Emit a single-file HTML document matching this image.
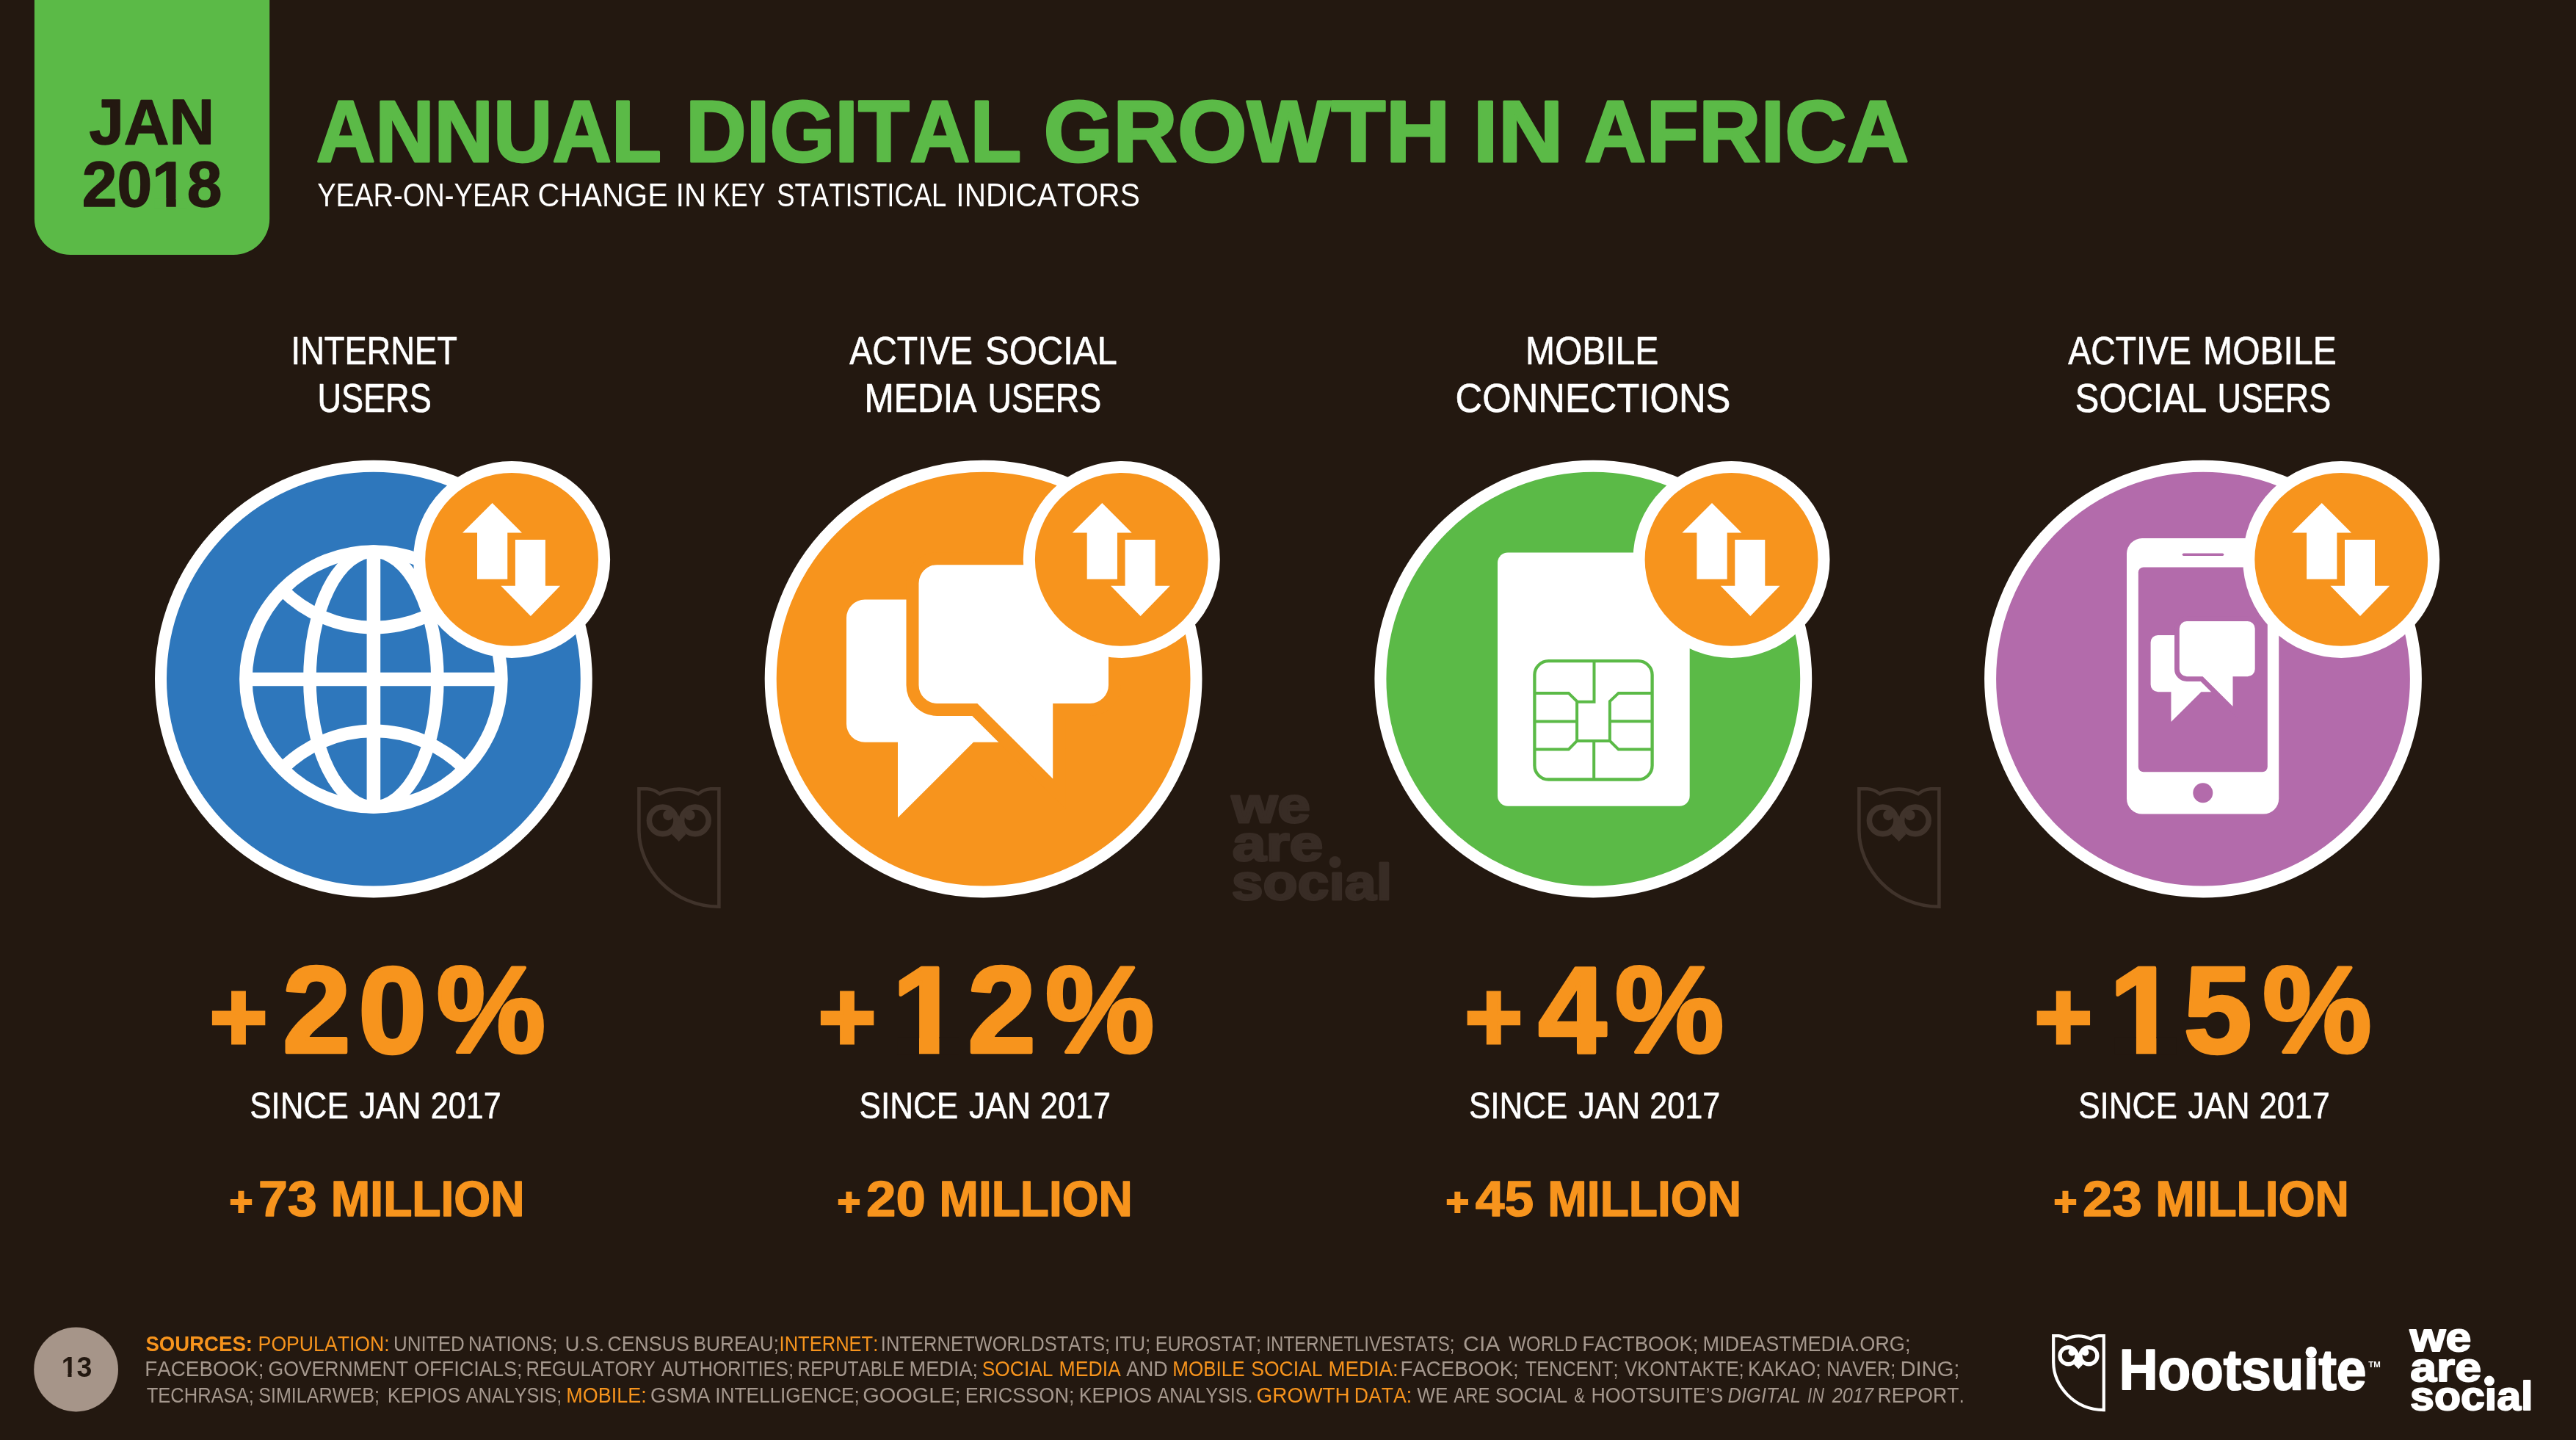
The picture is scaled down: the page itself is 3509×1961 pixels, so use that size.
<!DOCTYPE html>
<html lang="en"><head><meta charset="utf-8"><title>Annual Digital Growth in Africa</title>
<style>html,body{margin:0;padding:0;background:#231810;}body{width:3509px;height:1961px}svg{display:block}text{font-family:"Liberation Sans",sans-serif;white-space:pre;font-kerning:none}</style></head>
<body><svg style="will-change:transform" width="3509" height="1961" viewBox="0 0 3509 1961">
<rect width="3509" height="1961" fill="#231810"/>
<path d="M46.9,0 H367.2 V298 A49,49 0 0 1 318.2,347 H95.9 A49,49 0 0 1 46.9,298 Z" fill="#5bba47"/>
<text fill="#231810" font-weight="700" stroke="#231810"><tspan x="121.46" y="196.25" font-size="87.94" textLength="170.53" lengthAdjust="spacingAndGlyphs" stroke-width="1.5" stroke-linejoin="round">JAN</tspan> <tspan x="111.78" y="281.25" font-size="87.94" textLength="190.71" lengthAdjust="spacingAndGlyphs" stroke-width="1.5" stroke-linejoin="round">2018</tspan></text>
<rect x="210.58" y="270.33" width="15.77" height="12.87" fill="#5bba47"/><rect x="239.69" y="270.33" width="14.66" height="12.87" fill="#5bba47"/>
<text y="219.9" font-size="119.48" fill="#5bba47" stroke="#5bba47" stroke-width="3" stroke-linejoin="round"><tspan x="430.73" textLength="470.2" lengthAdjust="spacingAndGlyphs" font-weight="700">ANNUAL</tspan> <tspan x="934.05" textLength="457.37" lengthAdjust="spacingAndGlyphs" font-weight="700">DIGITAL</tspan> <tspan x="1421.51" textLength="553.98" lengthAdjust="spacingAndGlyphs" font-weight="700">GROWTH</tspan> <tspan x="2006.47" textLength="123.02" lengthAdjust="spacingAndGlyphs" font-weight="700">IN</tspan> <tspan x="2158.09" textLength="442.1" lengthAdjust="spacingAndGlyphs" font-weight="700">AFRICA</tspan></text>
<text y="280.7" font-size="43.46" fill="#fff"><tspan x="432.16" textLength="290.11" lengthAdjust="spacingAndGlyphs">YEAR-ON-YEAR</tspan> <tspan x="732.5" textLength="177.28" lengthAdjust="spacingAndGlyphs">CHANGE</tspan> <tspan x="920.58" textLength="41.4" lengthAdjust="spacingAndGlyphs">IN</tspan> <tspan x="971.38" textLength="71.2" lengthAdjust="spacingAndGlyphs">KEY</tspan> <tspan x="1058.14" textLength="231.27" lengthAdjust="spacingAndGlyphs">STATISTICAL</tspan> <tspan x="1302.35" textLength="250.41" lengthAdjust="spacingAndGlyphs">INDICATORS</tspan></text>
<text y="495.65" font-size="54.51" fill="#fff" stroke="#fff" stroke-width="0.7" stroke-linejoin="round"><tspan x="396.57" textLength="226.21" lengthAdjust="spacingAndGlyphs">INTERNET</tspan></text>
<text y="561.05" font-size="54.94" fill="#fff" stroke="#fff" stroke-width="0.7" stroke-linejoin="round"><tspan x="432.47" textLength="155.24" lengthAdjust="spacingAndGlyphs">USERS</tspan></text>
<text y="495.65" font-size="54.51" fill="#fff" stroke="#fff" stroke-width="0.7" stroke-linejoin="round"><tspan x="1157.36" textLength="167.48" lengthAdjust="spacingAndGlyphs">ACTIVE</tspan> <tspan x="1342.02" textLength="179.75" lengthAdjust="spacingAndGlyphs">SOCIAL</tspan></text>
<text y="561.05" font-size="54.94" fill="#fff" stroke="#fff" stroke-width="0.7" stroke-linejoin="round"><tspan x="1177.49" textLength="152.96" lengthAdjust="spacingAndGlyphs">MEDIA</tspan> <tspan x="1345.39" textLength="154.73" lengthAdjust="spacingAndGlyphs">USERS</tspan></text>
<text y="495.65" font-size="54.51" fill="#fff" stroke="#fff" stroke-width="0.7" stroke-linejoin="round"><tspan x="2077.91" textLength="181.4" lengthAdjust="spacingAndGlyphs">MOBILE</tspan></text>
<text y="561.05" font-size="54.94" fill="#fff" stroke="#fff" stroke-width="0.7" stroke-linejoin="round"><tspan x="1982.57" textLength="374.8" lengthAdjust="spacingAndGlyphs">CONNECTIONS</tspan></text>
<text y="495.65" font-size="54.51" fill="#fff" stroke="#fff" stroke-width="0.7" stroke-linejoin="round"><tspan x="2817.36" textLength="167.48" lengthAdjust="spacingAndGlyphs">ACTIVE</tspan> <tspan x="3001.11" textLength="181.61" lengthAdjust="spacingAndGlyphs">MOBILE</tspan></text>
<text y="561.05" font-size="54.94" fill="#fff" stroke="#fff" stroke-width="0.7" stroke-linejoin="round"><tspan x="2826.83" textLength="179.14" lengthAdjust="spacingAndGlyphs">SOCIAL</tspan> <tspan x="3020.49" textLength="154.73" lengthAdjust="spacingAndGlyphs">USERS</tspan></text>
<g transform="translate(868.1,1071.8) scale(1)" fill="none" stroke="#40332b" stroke-width="4.6"><path d="M2.3,60 V2.4 H13.8 Q23,3 30.5,9.3 Q56.8,-3.7 83,9.3 Q90.5,3 99.8,2.4 H111.3 V162.9 C45.9,162.6 2.8,109.7 2.3,60 Z" stroke-linejoin="miter"/><circle cx="34.6" cy="45.5" r="18.3" stroke-width="7.6"/><circle cx="78.8" cy="45.5" r="18.3" stroke-width="7.6"/><g fill="#40332b" stroke="none"><circle cx="42.2" cy="38.2" r="7.2"/><circle cx="71.4" cy="38.2" r="7.2"/><path d="M56.6,38 L47,64.5 L56.6,74.2 L66,64.5 Z"/></g></g>
<g transform="translate(2530.1,1071.8) scale(1)" fill="none" stroke="#40332b" stroke-width="4.6"><path d="M2.3,60 V2.4 H13.8 Q23,3 30.5,9.3 Q56.8,-3.7 83,9.3 Q90.5,3 99.8,2.4 H111.3 V162.9 C45.9,162.6 2.8,109.7 2.3,60 Z" stroke-linejoin="miter"/><circle cx="34.6" cy="45.5" r="18.3" stroke-width="7.6"/><circle cx="78.8" cy="45.5" r="18.3" stroke-width="7.6"/><g fill="#40332b" stroke="none"><circle cx="42.2" cy="38.2" r="7.2"/><circle cx="71.4" cy="38.2" r="7.2"/><path d="M56.6,38 L47,64.5 L56.6,74.2 L66,64.5 Z"/></g></g>
<text fill="#382c25" font-weight="700" stroke="#382c25"><tspan x="1677.84" y="1120" font-size="69.17" textLength="107.21" lengthAdjust="spacingAndGlyphs" stroke-width="3" stroke-linejoin="round">we</tspan> <tspan x="1678.69" y="1172.1" font-size="69.17" textLength="123.73" lengthAdjust="spacingAndGlyphs" stroke-width="3" stroke-linejoin="round">are</tspan> <tspan x="1677.69" y="1224.9" font-size="69.17" textLength="218.36" lengthAdjust="spacingAndGlyphs" stroke-width="3" stroke-linejoin="round">social</tspan></text>
<rect x="1813.29" y="1172.28" width="15.57" height="11.99" fill="#231810"/><circle cx="1818.6" cy="1174" r="8" fill="#382c25"/>
<circle cx="508.9" cy="924.6" r="289.9" fill="#2e77bc" stroke="#fff" stroke-width="16"/>
<circle cx="1339.6" cy="924.6" r="289.9" fill="#f7941d" stroke="#fff" stroke-width="16"/>
<circle cx="2170.3" cy="924.6" r="289.9" fill="#5bba47" stroke="#fff" stroke-width="16"/>
<circle cx="3001" cy="924.6" r="289.9" fill="#b36bab" stroke="#fff" stroke-width="16"/>
<g transform="translate(508.9,925)" fill="none" stroke="#fff" stroke-width="17.6"><circle r="174"/><ellipse rx="87" ry="174"/><path d="M0,-174 V174 M-174,0 H174" stroke-width="18.6"/><path d="M-124.3,-121.8 A176,176 0 0 0 124.3,-121.8 M-124.3,121.8 A176,176 0 0 1 124.3,121.8"/></g>
<g transform="translate(0,0)"><path d="M1178,816.6 H1386.7 A25,25 0 0 1 1411.7,841.6 V985.7 A25,25 0 0 1 1386.7,1010.7 H1326 L1223,1113.6 V1010.7 H1178 A25,25 0 0 1 1153,985.7 V841.6 A25,25 0 0 1 1178,816.6 Z" fill="#fff"/><path d="M1276.5,769.2 H1485 A25,25 0 0 1 1510,794.2 V932.9 A25,25 0 0 1 1485,957.9 H1434.2 V1060.4 L1331.3,957.9 H1276.5 A25,25 0 0 1 1251.5,932.9 V794.2 A25,25 0 0 1 1276.5,769.2 Z" fill="#fff" stroke="#f7941d" stroke-width="34" paint-order="stroke"/></g>
<rect x="2040" y="752.5" width="261.7" height="345.3" rx="14" fill="#fff"/>
<g fill="none" stroke="#5bba47" stroke-width="4"><rect stroke-width="4.3" x="2090.4" y="900.1" width="160.2" height="161.4" rx="19"/><path d="M2171.5,900 V955.7 H2148.1 M2090.4,943.9 H2136.7 L2148.1,955 V1008.9 L2136.7,1020.6 H2090.4 M2090.4,982.4 H2148.1 M2148.1,1008.9 H2192.9 M2171.2,1008.9 V1061.5 M2250.6,943.9 H2204.7 L2192.9,955 V1008.9 L2204.7,1020.6 H2250.6 M2192.9,982.2 H2250.6"/></g>
<rect x="2897" y="733.1" width="207.2" height="375.5" rx="21" fill="#fff"/>
<rect x="2912.8" y="772.4" width="176" height="278.9" rx="7" fill="#b36bab"/>
<path d="M2974.5,755.2 H3027.5" stroke="#b36bab" stroke-width="3.6" stroke-linecap="round"/>
<circle cx="3000.8" cy="1079.8" r="13.5" fill="#b36bab"/>
<g transform="translate(2470.7,539.9) scale(0.398)"><path d="M1178,816.6 H1386.7 A25,25 0 0 1 1411.7,841.6 V985.7 A25,25 0 0 1 1386.7,1010.7 H1326 L1223,1113.6 V1010.7 H1178 A25,25 0 0 1 1153,985.7 V841.6 A25,25 0 0 1 1178,816.6 Z" fill="#fff"/><path d="M1276.5,769.2 H1485 A25,25 0 0 1 1510,794.2 V932.9 A25,25 0 0 1 1485,957.9 H1434.2 V1060.4 L1331.3,957.9 H1276.5 A25,25 0 0 1 1251.5,932.9 V794.2 A25,25 0 0 1 1276.5,769.2 Z" fill="#fff" stroke="#b36bab" stroke-width="34" paint-order="stroke"/></g>
<g transform="translate(697.1,761.9)"><circle r="125.95" fill="#f7941d" stroke="#fff" stroke-width="16.1"/><path fill="#fff" d="M-26.5,-76.9 L13.9,-36.3 H-5.85 V26.85 H-47.1 V-36.3 H-67.1 Z M25.8,77.1 L-14.85,35.85 H4.8 V-26.9 H45.8 V35.85 H66 Z"/></g>
<g transform="translate(1527.8,761.9)"><circle r="125.95" fill="#f7941d" stroke="#fff" stroke-width="16.1"/><path fill="#fff" d="M-26.5,-76.9 L13.9,-36.3 H-5.85 V26.85 H-47.1 V-36.3 H-67.1 Z M25.8,77.1 L-14.85,35.85 H4.8 V-26.9 H45.8 V35.85 H66 Z"/></g>
<g transform="translate(2358.5,761.9)"><circle r="125.95" fill="#f7941d" stroke="#fff" stroke-width="16.1"/><path fill="#fff" d="M-26.5,-76.9 L13.9,-36.3 H-5.85 V26.85 H-47.1 V-36.3 H-67.1 Z M25.8,77.1 L-14.85,35.85 H4.8 V-26.9 H45.8 V35.85 H66 Z"/></g>
<g transform="translate(3189.2,761.9)"><circle r="125.95" fill="#f7941d" stroke="#fff" stroke-width="16.1"/><path fill="#fff" d="M-26.5,-76.9 L13.9,-36.3 H-5.85 V26.85 H-47.1 V-36.3 H-67.1 Z M25.8,77.1 L-14.85,35.85 H4.8 V-26.9 H45.8 V35.85 H66 Z"/></g>
<text font-weight="700" fill="#f7941d"><tspan x="285.66" y="1431.19" font-size="134.41" stroke="#f7941d" stroke-width="5">+</tspan><tspan x="384.89 488.21 594.85" y="1432.75" font-size="166.72" stroke="#f7941d" stroke-width="4.5" stroke-linejoin="round">20%</tspan></text>
<text font-weight="700" fill="#f7941d"><tspan x="1114.76" y="1431.19" font-size="134.41" stroke="#f7941d" stroke-width="5">+</tspan><tspan x="1215.41 1318.19 1423.9" y="1432.75" font-size="166.72" stroke="#f7941d" stroke-width="4.5" stroke-linejoin="round">12%</tspan></text><rect x="1222.46" y="1412.3" width="29.54" height="23.9" fill="#231810"/><rect x="1279.51" y="1412.3" width="27.37" height="23.9" fill="#231810"/>
<text font-weight="700" fill="#f7941d"><tspan x="1995.46" y="1431.19" font-size="134.41" stroke="#f7941d" stroke-width="5">+</tspan><tspan x="2095.58 2199.95" y="1432.75" font-size="166.72" stroke="#f7941d" stroke-width="4.5" stroke-linejoin="round">4%</tspan></text>
<text font-weight="700" fill="#f7941d"><tspan x="2771.56" y="1431.19" font-size="134.41" stroke="#f7941d" stroke-width="5">+</tspan><tspan x="2873.31 2974.85 3082.15" y="1432.75" font-size="166.72" stroke="#f7941d" stroke-width="4.5" stroke-linejoin="round">15%</tspan></text><rect x="2880.36" y="1412.3" width="29.54" height="23.9" fill="#231810"/><rect x="2937.41" y="1412.3" width="27.37" height="23.9" fill="#231810"/>
<text y="1522.6" font-size="49.56" fill="#fff" stroke="#fff" stroke-width="0.6" stroke-linejoin="round"><tspan x="340.2" textLength="134.59" lengthAdjust="spacingAndGlyphs">SINCE</tspan> <tspan x="489.6" textLength="84.13" lengthAdjust="spacingAndGlyphs">JAN</tspan> <tspan x="586.63" textLength="96.04" lengthAdjust="spacingAndGlyphs">2017</tspan></text>
<text y="1522.6" font-size="49.56" fill="#fff" stroke="#fff" stroke-width="0.6" stroke-linejoin="round"><tspan x="1170.6" textLength="134.59" lengthAdjust="spacingAndGlyphs">SINCE</tspan> <tspan x="1320" textLength="84.13" lengthAdjust="spacingAndGlyphs">JAN</tspan> <tspan x="1417.03" textLength="96.04" lengthAdjust="spacingAndGlyphs">2017</tspan></text>
<text y="1522.6" font-size="49.56" fill="#fff" stroke="#fff" stroke-width="0.6" stroke-linejoin="round"><tspan x="2000.9" textLength="134.59" lengthAdjust="spacingAndGlyphs">SINCE</tspan> <tspan x="2150.3" textLength="84.13" lengthAdjust="spacingAndGlyphs">JAN</tspan> <tspan x="2247.33" textLength="96.04" lengthAdjust="spacingAndGlyphs">2017</tspan></text>
<text y="1522.6" font-size="49.56" fill="#fff" stroke="#fff" stroke-width="0.6" stroke-linejoin="round"><tspan x="2831.2" textLength="134.59" lengthAdjust="spacingAndGlyphs">SINCE</tspan> <tspan x="2980.6" textLength="84.13" lengthAdjust="spacingAndGlyphs">JAN</tspan> <tspan x="3077.63" textLength="96.04" lengthAdjust="spacingAndGlyphs">2017</tspan></text>
<text fill="#f7941d" font-weight="700" stroke="#f7941d"><tspan x="312.41" y="1655.27" font-size="54.64" stroke-width="2">+</tspan><tspan x="351.97" y="1656.45" font-size="68.31" textLength="79.77" lengthAdjust="spacingAndGlyphs" stroke-width="1.5" stroke-linejoin="round">73</tspan> <tspan x="450.86" y="1656.45" font-size="68.31" textLength="263.72" lengthAdjust="spacingAndGlyphs" stroke-width="1.5" stroke-linejoin="round">MILLION</tspan></text>
<text fill="#f7941d" font-weight="700" stroke="#f7941d"><tspan x="1140.61" y="1655.2" font-size="54.44" stroke-width="2">+</tspan><tspan x="1180.03" y="1656.45" font-size="68.31" textLength="80.9" lengthAdjust="spacingAndGlyphs" stroke-width="1.5" stroke-linejoin="round">20</tspan> <tspan x="1279.56" y="1656.45" font-size="68.31" textLength="263.3" lengthAdjust="spacingAndGlyphs" stroke-width="1.5" stroke-linejoin="round">MILLION</tspan></text>
<text fill="#f7941d" font-weight="700" stroke="#f7941d"><tspan x="1969.52" y="1655.14" font-size="54.24" stroke-width="2">+</tspan><tspan x="2009.77" y="1656.45" font-size="68.31" textLength="79.47" lengthAdjust="spacingAndGlyphs" stroke-width="1.5" stroke-linejoin="round">45</tspan> <tspan x="2108.36" y="1656.45" font-size="68.31" textLength="263.72" lengthAdjust="spacingAndGlyphs" stroke-width="1.5" stroke-linejoin="round">MILLION</tspan></text>
<text fill="#f7941d" font-weight="700" stroke="#f7941d"><tspan x="2797.51" y="1655.27" font-size="54.64" stroke-width="2">+</tspan><tspan x="2837.14" y="1656.45" font-size="68.31" textLength="80.53" lengthAdjust="spacingAndGlyphs" stroke-width="1.5" stroke-linejoin="round">23</tspan> <tspan x="2936.16" y="1656.45" font-size="68.31" textLength="263.72" lengthAdjust="spacingAndGlyphs" stroke-width="1.5" stroke-linejoin="round">MILLION</tspan></text>
<circle cx="103.6" cy="1865" r="57.4" fill="#a69589"/>
<text x="83.64" y="1874.9" font-size="38.52" fill="#231810" textLength="41.72" lengthAdjust="spacingAndGlyphs" font-weight="700">13</text>
<rect x="84.8" y="1869.77" width="7.58" height="6.33" fill="#a69589"/><rect x="97.55" y="1869.77" width="7.09" height="6.33" fill="#a69589"/>
<text y="1839.5" font-size="29.51" fill="#a5988e"><tspan x="198.41" textLength="145.55" lengthAdjust="spacingAndGlyphs" fill="#f7941d" font-weight="700">SOURCES:</tspan> <tspan x="351.61" textLength="179.12" lengthAdjust="spacingAndGlyphs" fill="#f7941d">POPULATION:</tspan> <tspan x="536.1" textLength="96.65" lengthAdjust="spacingAndGlyphs">UNITED</tspan> <tspan x="638.09" textLength="121.21" lengthAdjust="spacingAndGlyphs">NATIONS;</tspan> <tspan x="769.57" textLength="53.65" lengthAdjust="spacingAndGlyphs">U.S.</tspan> <tspan x="827.44" textLength="111.28" lengthAdjust="spacingAndGlyphs">CENSUS</tspan> <tspan x="944.55" textLength="116.5" lengthAdjust="spacingAndGlyphs">BUREAU;</tspan> <tspan x="1061.54" textLength="134.79" lengthAdjust="spacingAndGlyphs" fill="#f7941d">INTERNET:</tspan> <tspan x="1199.84" textLength="312.25" lengthAdjust="spacingAndGlyphs">INTERNETWORLDSTATS;</tspan> <tspan x="1517.99" textLength="49.25" lengthAdjust="spacingAndGlyphs">ITU;</tspan> <tspan x="1573.63" textLength="144.44" lengthAdjust="spacingAndGlyphs">EUROSTAT;</tspan> <tspan x="1724.38" textLength="257.09" lengthAdjust="spacingAndGlyphs">INTERNETLIVESTATS;</tspan> <tspan x="1993.06" textLength="50.5" lengthAdjust="spacingAndGlyphs">CIA</tspan> <tspan x="2055.29" textLength="93.72" lengthAdjust="spacingAndGlyphs">WORLD</tspan> <tspan x="2155.36" textLength="158" lengthAdjust="spacingAndGlyphs">FACTBOOK;</tspan> <tspan x="2319.48" textLength="282.96" lengthAdjust="spacingAndGlyphs">MIDEASTMEDIA.ORG;</tspan></text>
<text y="1873.7" font-size="29.51" fill="#a5988e"><tspan x="197.22" textLength="162.28" lengthAdjust="spacingAndGlyphs">FACEBOOK;</tspan> <tspan x="365.46" textLength="190.55" lengthAdjust="spacingAndGlyphs">GOVERNMENT</tspan> <tspan x="563.92" textLength="147.72" lengthAdjust="spacingAndGlyphs">OFFICIALS;</tspan> <tspan x="716.4" textLength="176.57" lengthAdjust="spacingAndGlyphs">REGULATORY</tspan> <tspan x="900.95" textLength="180.16" lengthAdjust="spacingAndGlyphs">AUTHORITIES;</tspan> <tspan x="1086.59" textLength="145.46" lengthAdjust="spacingAndGlyphs">REPUTABLE</tspan> <tspan x="1238.57" textLength="93.57" lengthAdjust="spacingAndGlyphs">MEDIA;</tspan> <tspan x="1337.8" textLength="96.67" lengthAdjust="spacingAndGlyphs" fill="#f7941d">SOCIAL</tspan> <tspan x="1442.52" textLength="84.34" lengthAdjust="spacingAndGlyphs" fill="#f7941d">MEDIA</tspan> <tspan x="1534.15" textLength="56.43" lengthAdjust="spacingAndGlyphs">AND</tspan> <tspan x="1597.26" textLength="98.35" lengthAdjust="spacingAndGlyphs" fill="#f7941d">MOBILE</tspan> <tspan x="1704.19" textLength="97.39" lengthAdjust="spacingAndGlyphs" fill="#f7941d">SOCIAL</tspan> <tspan x="1809.53" textLength="95.19" lengthAdjust="spacingAndGlyphs" fill="#f7941d">MEDIA:</tspan> <tspan x="1907.53" textLength="161.25" lengthAdjust="spacingAndGlyphs">FACEBOOK;</tspan> <tspan x="2077.73" textLength="126.75" lengthAdjust="spacingAndGlyphs">TENCENT;</tspan> <tspan x="2212.89" textLength="162.82" lengthAdjust="spacingAndGlyphs">VKONTAKTE;</tspan> <tspan x="2381" textLength="99.7" lengthAdjust="spacingAndGlyphs">KAKAO;</tspan> <tspan x="2488.13" textLength="94.04" lengthAdjust="spacingAndGlyphs">NAVER;</tspan> <tspan x="2588.41" textLength="81.01" lengthAdjust="spacingAndGlyphs">DING;</tspan></text>
<text y="1909.5" font-size="29.51" fill="#a5988e"><tspan x="199.63" textLength="146.17" lengthAdjust="spacingAndGlyphs">TECHRASA;</tspan> <tspan x="352.16" textLength="164.8" lengthAdjust="spacingAndGlyphs">SIMILARWEB;</tspan> <tspan x="527.71" textLength="99.52" lengthAdjust="spacingAndGlyphs">KEPIOS</tspan> <tspan x="634.75" textLength="130.52" lengthAdjust="spacingAndGlyphs">ANALYSIS;</tspan> <tspan x="771.29" textLength="109.37" lengthAdjust="spacingAndGlyphs" fill="#f7941d">MOBILE:</tspan> <tspan x="885.91" textLength="81.55" lengthAdjust="spacingAndGlyphs">GSMA</tspan> <tspan x="974.18" textLength="196.67" lengthAdjust="spacingAndGlyphs">INTELLIGENCE;</tspan> <tspan x="1175.14" textLength="133.45" lengthAdjust="spacingAndGlyphs">GOOGLE;</tspan> <tspan x="1314.78" textLength="148.64" lengthAdjust="spacingAndGlyphs">ERICSSON;</tspan> <tspan x="1469.71" textLength="99.31" lengthAdjust="spacingAndGlyphs">KEPIOS</tspan> <tspan x="1576.55" textLength="129.94" lengthAdjust="spacingAndGlyphs">ANALYSIS.</tspan> <tspan x="1711.6" textLength="127.08" lengthAdjust="spacingAndGlyphs" fill="#f7941d">GROWTH</tspan> <tspan x="1844.72" textLength="78.42" lengthAdjust="spacingAndGlyphs" fill="#f7941d">DATA:</tspan> <tspan x="1930.29" textLength="42.04" lengthAdjust="spacingAndGlyphs">WE</tspan> <tspan x="1980.35" textLength="48.97" lengthAdjust="spacingAndGlyphs">ARE</tspan> <tspan x="2036.78" textLength="98.31" lengthAdjust="spacingAndGlyphs">SOCIAL</tspan> <tspan x="2144.32" textLength="14.72" lengthAdjust="spacingAndGlyphs">&amp;</tspan> <tspan x="2167.4" textLength="180.03" lengthAdjust="spacingAndGlyphs">HOOTSUITE’S</tspan> <tspan x="2353.51" textLength="99.37" lengthAdjust="spacingAndGlyphs" font-style="italic">DIGITAL</tspan> <tspan x="2462.1" textLength="22.69" lengthAdjust="spacingAndGlyphs" font-style="italic">IN</tspan> <tspan x="2495.85" textLength="56.08" lengthAdjust="spacingAndGlyphs" font-style="italic">2017</tspan> <tspan x="2557.62" textLength="118.21" lengthAdjust="spacingAndGlyphs">REPORT.</tspan></text>
<g transform="translate(2795.75,1817.6) scale(0.629)" fill="none" stroke="#fff" stroke-width="6.7"><path d="M2.3,60 V2.4 H13.8 Q23,3 30.5,9.3 Q56.8,-3.7 83,9.3 Q90.5,3 99.8,2.4 H111.3 V162.9 C45.9,162.6 2.8,109.7 2.3,60 Z" stroke-linejoin="miter"/><circle cx="34.6" cy="45.5" r="18.3" stroke-width="8.6"/><circle cx="78.8" cy="45.5" r="18.3" stroke-width="8.6"/><g fill="#fff" stroke="none"><circle cx="42.2" cy="38.2" r="7.6"/><circle cx="71.4" cy="38.2" r="7.6"/><path d="M56.6,38 L47,64.5 L56.6,74.2 L66,64.5 Z"/></g></g>
<text x="2886.72" y="1892" font-size="78.49" fill="#fff" textLength="336.68" lengthAdjust="spacingAndGlyphs" font-weight="700" stroke="#fff" stroke-width="2" stroke-linejoin="round">Hootsuite</text>
<rect x="3141.28" y="1833.13" width="14.02" height="11.94" fill="#231810"/><circle cx="3148.29" cy="1841.4" r="7.7" fill="#fff"/>
<text x="3226.27" y="1861.7" font-size="11.77" fill="#fff" textLength="16.6" lengthAdjust="spacingAndGlyphs" font-weight="700">TM</text>
<text fill="#fff" font-weight="700" stroke="#fff"><tspan x="3282.78" y="1839.8" font-size="56.26" textLength="83.56" lengthAdjust="spacingAndGlyphs" stroke-width="2" stroke-linejoin="round">we</tspan> <tspan x="3283.31" y="1880.6" font-size="56.26" textLength="96.69" lengthAdjust="spacingAndGlyphs" stroke-width="2" stroke-linejoin="round">are</tspan> <tspan x="3283.12" y="1920.3" font-size="56.26" textLength="167.35" lengthAdjust="spacingAndGlyphs" stroke-width="2" stroke-linejoin="round">social</tspan></text>
<rect x="3386.97" y="1877.53" width="12.1" height="9.69" fill="#231810"/><circle cx="3390.9" cy="1880.6" r="7" fill="#fff"/>
</svg></body></html>
